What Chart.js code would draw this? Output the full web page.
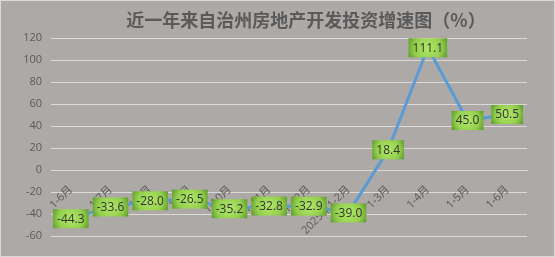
<!DOCTYPE html>
<html>
<head>
<meta charset="utf-8">
<script src="https://cdn.jsdelivr.net/npm/chart.js@4"></script>
<style>
  html, body { margin: 0; padding: 0; background: #ada9a7; }
  #wrap { width: 555px; height: 257px; }
</style>
</head>
<body>
<div id="wrap"><canvas id="myChart" width="555" height="257"></canvas></div>
<script>
// 数据
var titulo = '近一年来自治州房地产开发投资增速图（%）';
var meses = ['1-6月', '1-7月', '1-8月', '1-9月', '1-10月', '1-11月', '1-12月', '2025年1-2月', '1-3月', '1-4月', '1-5月', '1-6月'];
var crescimento = [-44.3, -33.6, -28.0, -26.5, -35.2, -32.8, -32.9, -39.0, 18.4, 111.1, 45.0, 50.5];
var yMin = -60, yMax = 120, yStep = 20;

var fonteTexto = "'Open Sans', 'Noto Sans CJK SC', sans-serif";

// fundo, borda e título
var fundoPlugin = {
    id: 'fundo',
    beforeDraw: function (chart) {
        var c = chart.ctx;
        c.save();
        c.fillStyle = '#ada9a7';
        c.fillRect(0, 0, chart.width, chart.height);
        c.strokeStyle = '#d9d9d9';
        c.lineWidth = 1;
        c.strokeRect(0.5, 0.5, chart.width - 1, chart.height - 1);
        c.fillStyle = '#5a5a5a';
        c.font = "bold 18px 'Noto Sans CJK SC', sans-serif";
        c.textAlign = 'center';
        c.textBaseline = 'middle';
        c.fillText(titulo, 306, 20);
        c.restore();
    }
};

// rótulos verdes sobre os pontos
var rotulosPlugin = {
    id: 'rotulos',
    afterDatasetsDraw: function (chart) {
        var c = chart.ctx;
        var meta = chart.getDatasetMeta(0);
        c.save();
        c.font = '12px ' + fonteTexto;
        c.textAlign = 'center';
        c.textBaseline = 'middle';
        meta.data.forEach(function (pt, i) {
            var txt = crescimento[i].toFixed(1);
            var w = c.measureText(txt).width + 8;
            var h = 19;
            var x0 = pt.x - w / 2, y0 = pt.y - h / 2;
            var g = c.createRadialGradient(pt.x, pt.y, 2, pt.x, pt.y, w / 2 + 2);
            g.addColorStop(0, '#aee466');
            g.addColorStop(0.6, '#92cf4c');
            g.addColorStop(1, '#5f9b2c');
            c.fillStyle = g;
            c.fillRect(x0, y0, w, h);
            c.fillStyle = '#333333';
            c.fillText(txt, pt.x, pt.y + 0.5);
        });
        c.restore();
    }
};

var ctx = document.getElementById('myChart').getContext('2d');
var myChart = new Chart(ctx, {
    type: 'line',
    data: {
        labels: meses,
        datasets: [{
            label: '增速',
            data: crescimento,
            borderColor: '#5b9bd5',
            borderWidth: 3,
            pointRadius: 0,
            tension: 0,
            fill: false
        }]
    },
    options: {
        responsive: false,
        animation: false,
        layout: { padding: { top: 38, bottom: 21, left: 0, right: 28 } },
        plugins: {
            legend: { display: false },
            title: { display: false },
            tooltip: { enabled: false }
        },
        scales: {
            x: {
                position: { y: 0 },
                offset: true,
                grid: { display: false, drawTicks: false },
                border: { color: '#d9d9d9', width: 1 },
                ticks: {
                    minRotation: 45,
                    maxRotation: 45,
                    autoSkip: false,
                    padding: 13,
                    color: '#5a5a5a',
                    font: { size: 11, family: fonteTexto }
                },
                afterFit: function (s) { s.height = 0; }
            },
            y: {
                min: yMin,
                max: yMax,
                ticks: {
                    stepSize: yStep,
                    padding: 9,
                    color: '#5a5a5a',
                    font: { size: 11, family: fonteTexto }
                },
                grid: { color: '#dcdad8', lineWidth: 1, drawTicks: false },
                border: { display: false },
                afterFit: function (s) { s.width = 51; }
            }
        }
    },
    plugins: [fundoPlugin, rotulosPlugin]
});
</script>
</body>
</html>
